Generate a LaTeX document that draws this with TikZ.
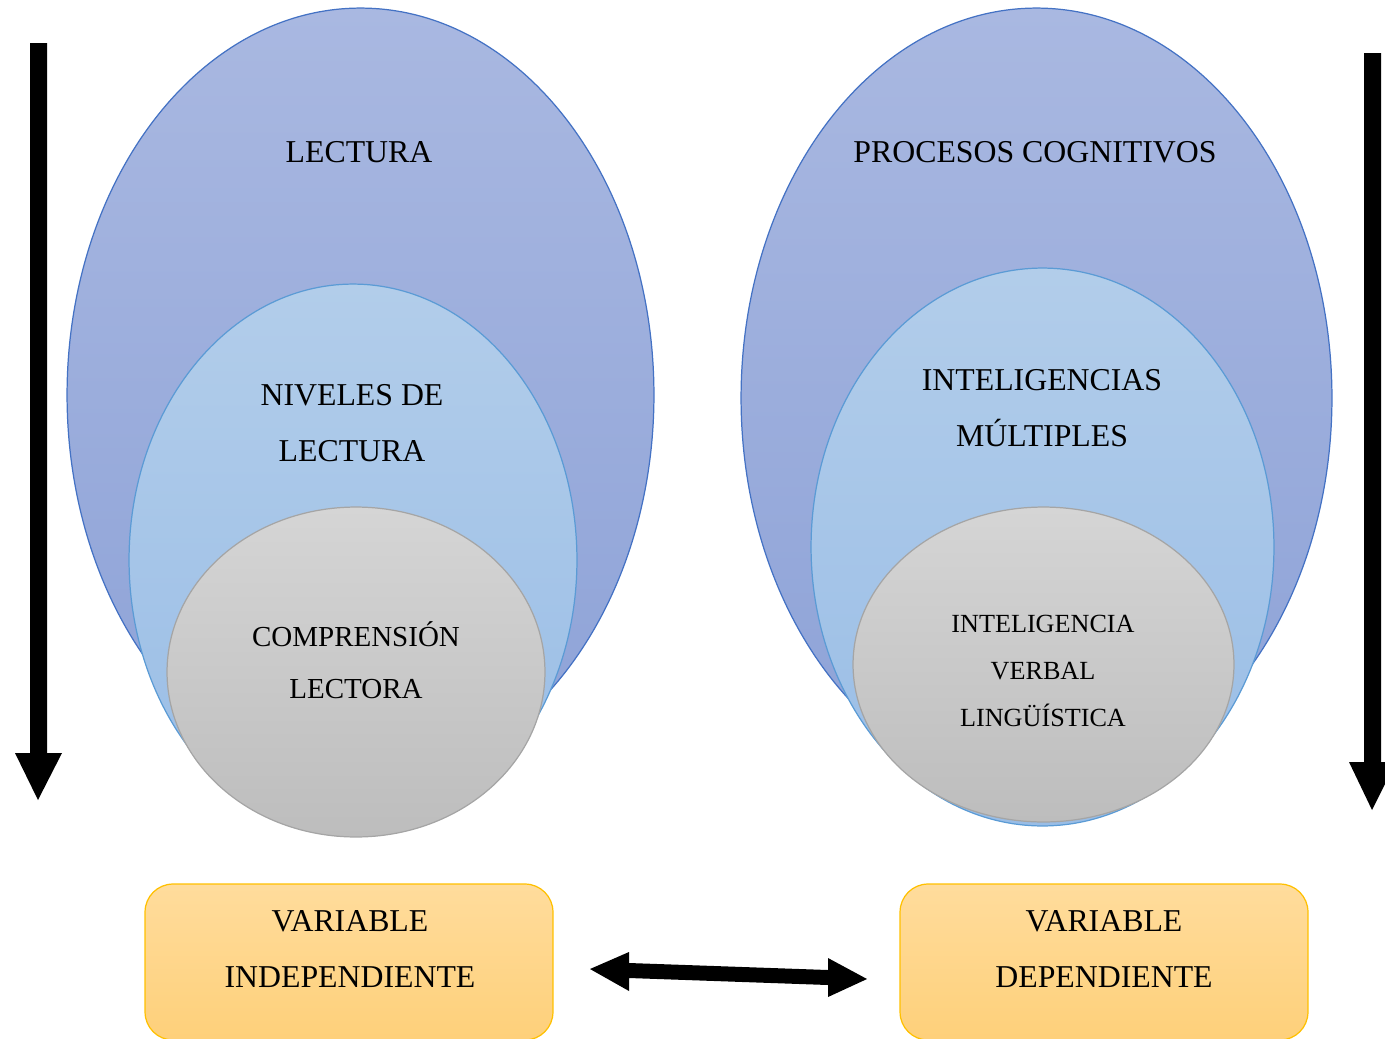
\documentclass[tikz,border=0pt]{standalone}
\usepackage{fontspec}
\setmainfont{Liberation Serif}
\usetikzlibrary{shapes.geometric}
\definecolor{bigtop}{HTML}{A9B8E1}
\definecolor{bigbot}{HTML}{8DA2D7}
\definecolor{bigline}{HTML}{4472C4}
\definecolor{midtop}{HTML}{B2CDEA}
\definecolor{midbot}{HTML}{99BDE6}
\definecolor{midline}{HTML}{5B9BD5}
\definecolor{smltop}{HTML}{D5D5D5}
\definecolor{smlbot}{HTML}{BDBDBD}
\definecolor{smlline}{HTML}{A5A5A5}
\definecolor{boxtop}{HTML}{FFDC9C}
\definecolor{boxbot}{HTML}{FED07A}
\definecolor{boxline}{HTML}{FFC000}
\begin{document}
\begin{tikzpicture}[x=0.02cm,y=-0.02cm]
\tikzset{
  bigell/.style={ellipse, inner sep=0pt, outer sep=0pt, draw=bigline, line width=0.7pt, top color=bigtop, bottom color=bigbot},
  midell/.style={ellipse, inner sep=0pt, outer sep=0pt, draw=midline, line width=0.7pt, top color=midtop, bottom color=midbot},
  smlell/.style={ellipse, inner sep=0pt, outer sep=0pt, draw=smlline, line width=0.7pt, top color=smltop, bottom color=smlbot},
  varbox/.style={rectangle, rounded corners=0.56cm, inner sep=0pt, outer sep=0pt, draw=boxline, line width=0.7pt, top color=boxtop, bottom color=boxbot, minimum width=8.16cm, minimum height=3.12cm},
  bigtxt/.style={align=center, inner sep=0pt, font=\fontsize{18.1}{31.8}\selectfont},
  medtxt/.style={align=center, inner sep=0pt, font=\fontsize{16.5}{29.5}\selectfont},
  smltxt/.style={align=center, inner sep=0pt, font=\fontsize{14.9}{26.6}\selectfont},
  blackarrow/.style={fill=black, draw=none}
}
\useasboundingbox (0,0) rectangle (1385,1038);
% left ellipses
\node[bigell, minimum width=11.74cm, minimum height=15.48cm] (lbig) at (360.5,395) {};
\node[midell, minimum width=8.96cm, minimum height=11.04cm] (lmid) at (353,560) {};
\node[smlell, minimum width=7.56cm, minimum height=6.6cm] (lsml) at (356,672) {};
% right ellipses
\node[bigell, minimum width=11.82cm, minimum height=15.6cm] (rbig) at (1036.5,398) {};
\node[midell, minimum width=9.26cm, minimum height=11.16cm] (rmid) at (1042.5,547) {};
\node[smlell, minimum width=7.62cm, minimum height=6.3cm] (rsml) at (1043.5,664.5) {};
% texts
\node[bigtxt] (t1) at (359,152) {LECTURA};
\node[bigtxt] (t2) at (1035,152) {PROCESOS COGNITIVOS};
\node[bigtxt] (t3) at (352,423) {NIVELES DE\\LECTURA};
\node[bigtxt] (t4) at (1042,408) {INTELIGENCIAS\\MÚLTIPLES};
\node[medtxt] (t5) at (356,660) {COMPRENSIÓN\\LECTORA};
\node[smltxt] (t6) at (1043,671) {INTELIGENCIA\\VERBAL\\LINGÜÍSTICA};
% boxes
\node[varbox] (bl) at (349,962) {};
\node[varbox] (br) at (1104,962) {};
\node[bigtxt] (bt1) at (350,949) {VARIABLE\\INDEPENDIENTE};
\node[bigtxt] (bt2) at (1104,949) {VARIABLE\\DEPENDIENTE};
% vertical arrows
\coordinate (latop) at (38,43);
\coordinate (latip) at (38,800);
\fill[blackarrow] (30,43) -- (47,43) -- (47,753) -- (62,753) -- (latip) -- (15,753) -- (30,753) -- cycle;
\coordinate (ratop) at (1372,53);
\coordinate (ratip) at (1372,810);
\fill[blackarrow] (1364,53) -- (1381,53) -- (1381,762) -- (1396,762) -- (ratip) -- (1349,762) -- (1364,762) -- cycle;
% double arrow
\coordinate (dl) at (590,969);
\coordinate (dr) at (867,979);
\fill[blackarrow] (dl) -- (629,952) -- (629,963) -- (828,970) -- (828,958) -- (dr) -- (828,997) -- (828,985) -- (629,978) -- (629,991) -- cycle;
\end{tikzpicture}
\end{document}
